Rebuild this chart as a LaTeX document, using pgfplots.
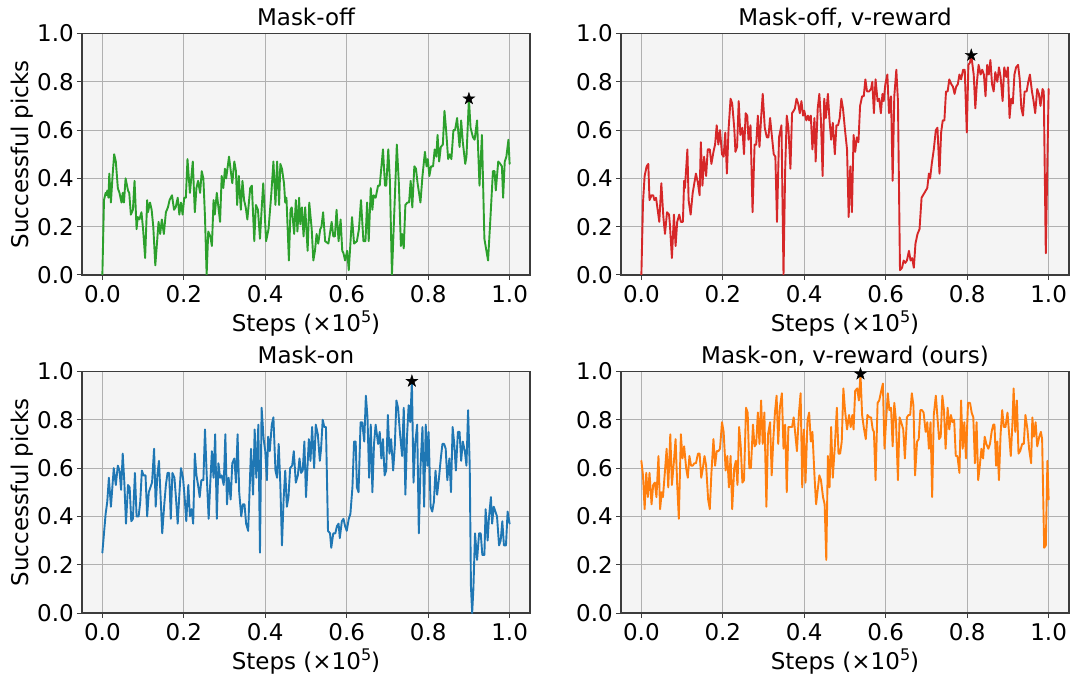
\documentclass[border=0pt]{standalone}
\usepackage{fontspec}
\setmainfont{DejaVu Sans}
\usepackage{pgfplots}
\pgfplotsset{compat=1.18}
\definecolor{tabgreen}{HTML}{2CA02C}
\definecolor{tabred}{HTML}{D62728}
\definecolor{tabblue}{HTML}{1F77B4}
\definecolor{taborange}{HTML}{FF7F0E}
\definecolor{axbg}{HTML}{F4F4F4}
\definecolor{gridc}{HTML}{B0B0B0}
\definecolor{framec}{HTML}{3C3C3C}
\pgfdeclareplotmark{fstar}{%
  \pgfpathmoveto{\pgfpointpolar{90}{\pgfplotmarksize}}%
  \pgfpathlineto{\pgfpointpolar{126}{0.382\pgfplotmarksize}}%
  \pgfpathlineto{\pgfpointpolar{162}{\pgfplotmarksize}}%
  \pgfpathlineto{\pgfpointpolar{198}{0.382\pgfplotmarksize}}%
  \pgfpathlineto{\pgfpointpolar{234}{\pgfplotmarksize}}%
  \pgfpathlineto{\pgfpointpolar{270}{0.382\pgfplotmarksize}}%
  \pgfpathlineto{\pgfpointpolar{306}{\pgfplotmarksize}}%
  \pgfpathlineto{\pgfpointpolar{342}{0.382\pgfplotmarksize}}%
  \pgfpathlineto{\pgfpointpolar{18}{\pgfplotmarksize}}%
  \pgfpathlineto{\pgfpointpolar{54}{0.382\pgfplotmarksize}}%
  \pgfpathclose
  \pgfusepathqfillstroke}
\newcommand{\bigf}{\fontsize{23}{27}\selectfont}
\pgfplotsset{
  panel/.style={
    scale only axis, width=448pt, height=241.5pt,
    xmin=-0.05, xmax=1.05, ymin=0, ymax=1,
    xtick={0,0.2,0.4,0.6,0.8,1}, ytick={0,0.2,0.4,0.6,0.8,1},
    xticklabels={0.0,0.2,0.4,0.6,0.8,1.0},
    yticklabels={0.0,0.2,0.4,0.6,0.8,1.0},
    grid=major, major grid style={line width=1pt, color=gridc},
    axis background/.style={fill=axbg},
    axis line style={line width=1.2pt, color=framec},
    tick align=outside, tick pos=left, major tick length=5pt,
    every tick/.style={line width=1pt, color=framec},
    tick label style={font=\bigf},
    xticklabel style={inner sep=5.5pt},
    yticklabel style={inner sep=3pt},
    label style={font=\bigf},
    title style={font=\bigf, at={(axis description cs:0.5,1)}, anchor=base, yshift=1.5pt},
    xlabel={Steps (×10\raisebox{0.42em}{\fontsize{16}{16}\selectfont 5})},
    xlabel style={at={(axis description cs:0.5,-0.236)}, anchor=base},
    ylabel style={at={(axis description cs:-0.1205,0.5)}, anchor=base},
  },
  dline/.style={line width=1.9pt, line join=round, line cap=round},
  starm/.style={only marks, mark=fstar, mark size=6.3pt, black, mark options={fill=black, draw=black, line width=0.4pt}},
}
\begin{document}
\begin{tikzpicture}
% ---------------- Mask-off ----------------
\begin{axis}[panel, at={(0pt,338pt)}, anchor=south west, title={Mask-off}, ylabel={Successful picks}]
\addplot[dline, tabgreen] table {
0.000 0.00
0.004 0.31
0.008 0.34
0.011 0.33
0.012 0.35
0.015 0.32
0.017 0.42
0.021 0.30
0.025 0.41
0.029 0.50
0.033 0.47
0.038 0.36
0.042 0.34
0.047 0.30
0.050 0.34
0.053 0.30
0.057 0.40
0.063 0.35
0.066 0.34
0.070 0.25
0.075 0.27
0.079 0.39
0.084 0.19
0.087 0.24
0.091 0.23
0.096 0.26
0.100 0.19
0.105 0.07
0.110 0.31
0.112 0.26
0.117 0.30
0.121 0.27
0.125 0.20
0.130 0.04
0.134 0.13
0.138 0.22
0.142 0.17
0.146 0.23
0.151 0.17
0.156 0.26
0.161 0.28
0.165 0.31
0.171 0.33
0.176 0.27
0.180 0.28
0.185 0.32
0.189 0.25
0.193 0.30
0.197 0.25
0.201 0.32
0.205 0.32
0.209 0.48
0.215 0.34
0.222 0.47
0.227 0.26
0.231 0.36
0.235 0.39
0.240 0.34
0.244 0.43
0.248 0.40
0.252 0.24
0.256 0.00
0.260 0.18
0.265 0.16
0.269 0.12
0.273 0.31
0.276 0.25
0.281 0.34
0.289 0.22
0.293 0.41
0.297 0.36
0.301 0.44
0.304 0.40
0.311 0.49
0.319 0.38
0.324 0.47
0.328 0.43
0.331 0.29
0.335 0.41
0.340 0.27
0.344 0.39
0.348 0.31
0.352 0.28
0.356 0.23
0.363 0.36
0.367 0.37
0.373 0.14
0.377 0.29
0.382 0.27
0.387 0.15
0.391 0.27
0.395 0.38
0.402 0.14
0.408 0.19
0.415 0.34
0.420 0.47
0.425 0.29
0.429 0.47
0.434 0.29
0.437 0.46
0.441 0.44
0.446 0.38
0.449 0.30
0.452 0.32
0.458 0.06
0.462 0.27
0.465 0.28
0.471 0.17
0.475 0.31
0.479 0.18
0.483 0.32
0.486 0.21
0.490 0.28
0.494 0.16
0.498 0.28
0.504 0.10
0.508 0.30
0.514 0.19
0.518 0.06
0.522 0.10
0.526 0.17
0.530 0.13
0.535 0.19
0.538 0.20
0.542 0.26
0.547 0.14
0.555 0.13
0.563 0.22
0.567 0.16
0.571 0.16
0.575 0.27
0.580 0.14
0.585 0.23
0.589 0.10
0.592 0.09
0.596 0.06
0.601 0.10
0.605 0.02
0.613 0.24
0.618 0.13
0.625 0.14
0.630 0.19
0.635 0.31
0.641 0.14
0.646 0.14
0.650 0.30
0.654 0.14
0.659 0.36
0.663 0.27
0.666 0.33
0.671 0.32
0.677 0.37
0.681 0.37
0.689 0.52
0.694 0.37
0.697 0.37
0.702 0.52
0.706 0.39
0.711 0.00
0.717 0.27
0.723 0.54
0.728 0.38
0.733 0.12
0.736 0.17
0.740 0.11
0.744 0.29
0.749 0.30
0.753 0.30
0.757 0.39
0.761 0.28
0.766 0.45
0.770 0.44
0.774 0.38
0.781 0.30
0.786 0.41
0.792 0.51
0.796 0.45
0.799 0.48
0.803 0.41
0.807 0.45
0.812 0.45
0.816 0.52
0.820 0.49
0.823 0.58
0.827 0.47
0.831 0.53
0.836 0.54
0.840 0.68
0.844 0.60
0.849 0.48
0.853 0.50
0.857 0.48
0.862 0.60
0.866 0.60
0.871 0.65
0.877 0.53
0.881 0.64
0.885 0.55
0.891 0.46
0.894 0.49
0.900 0.73
0.904 0.61
0.910 0.57
0.914 0.56
0.920 0.64
0.926 0.37
0.932 0.58
0.938 0.15
0.947 0.06
0.952 0.21
0.959 0.43
0.963 0.43
0.966 0.35
0.972 0.47
0.977 0.46
0.981 0.45
0.984 0.32
0.988 0.47
0.992 0.49
0.997 0.56
1.000 0.46
};
\addplot[starm] coordinates {(0.900,0.73)};
\end{axis}
% ---------------- Mask-off, v-reward ----------------
\begin{axis}[panel, at={(539pt,338pt)}, anchor=south west, title={Mask-off, v-reward}]
\addplot[dline, tabred] table {
0.000 0.00
0.004 0.30
0.008 0.41
0.013 0.45
0.017 0.46
0.020 0.31
0.025 0.33
0.029 0.33
0.032 0.31
0.036 0.32
0.040 0.27
0.044 0.22
0.049 0.38
0.054 0.24
0.058 0.17
0.063 0.26
0.068 0.25
0.070 0.21
0.075 0.07
0.080 0.25
0.084 0.12
0.088 0.22
0.093 0.25
0.097 0.22
0.102 0.22
0.105 0.39
0.107 0.36
0.113 0.52
0.116 0.31
0.121 0.25
0.126 0.34
0.134 0.42
0.139 0.38
0.143 0.33
0.146 0.55
0.150 0.37
0.154 0.49
0.159 0.41
0.163 0.52
0.168 0.52
0.172 0.46
0.177 0.51
0.181 0.54
0.185 0.62
0.189 0.54
0.193 0.60
0.198 0.50
0.202 0.49
0.206 0.59
0.210 0.42
0.214 0.60
0.219 0.73
0.223 0.71
0.228 0.61
0.231 0.51
0.235 0.53
0.239 0.72
0.243 0.58
0.248 0.61
0.252 0.50
0.256 0.67
0.260 0.66
0.263 0.56
0.268 0.62
0.273 0.26
0.278 0.54
0.282 0.54
0.286 0.66
0.290 0.53
0.294 0.65
0.298 0.75
0.303 0.61
0.308 0.57
0.312 0.57
0.316 0.65
0.325 0.50
0.329 0.49
0.333 0.22
0.338 0.57
0.344 0.62
0.349 0.00
0.353 0.43
0.357 0.66
0.361 0.61
0.366 0.44
0.370 0.67
0.374 0.68
0.377 0.69
0.381 0.73
0.385 0.71
0.389 0.67
0.393 0.72
0.397 0.66
0.400 0.68
0.405 0.64
0.409 0.66
0.412 0.64
0.416 0.66
0.420 0.52
0.425 0.65
0.428 0.47
0.433 0.69
0.437 0.75
0.441 0.64
0.445 0.41
0.449 0.73
0.453 0.65
0.458 0.75
0.462 0.64
0.466 0.56
0.470 0.63
0.475 0.50
0.479 0.62
0.483 0.62
0.487 0.65
0.491 0.73
0.495 0.69
0.500 0.60
0.505 0.52
0.509 0.24
0.513 0.45
0.517 0.26
0.521 0.58
0.525 0.51
0.529 0.57
0.533 0.55
0.537 0.70
0.542 0.74
0.546 0.74
0.550 0.81
0.554 0.76
0.559 0.76
0.564 0.77
0.567 0.80
0.571 0.67
0.575 0.81
0.580 0.72
0.584 0.73
0.588 0.67
0.592 0.75
0.595 0.72
0.599 0.79
0.604 0.83
0.608 0.67
0.613 0.74
0.617 0.39
0.621 0.74
0.626 0.85
0.630 0.72
0.635 0.02
0.640 0.03
0.644 0.06
0.648 0.05
0.652 0.06
0.657 0.10
0.661 0.06
0.665 0.07
0.669 0.03
0.673 0.13
0.678 0.17
0.683 0.19
0.688 0.32
0.695 0.34
0.702 0.36
0.706 0.42
0.709 0.40
0.713 0.46
0.718 0.52
0.723 0.60
0.727 0.61
0.732 0.42
0.736 0.59
0.740 0.64
0.744 0.64
0.748 0.76
0.752 0.76
0.756 0.81
0.761 0.79
0.765 0.78
0.769 0.75
0.773 0.78
0.777 0.79
0.781 0.83
0.785 0.81
0.790 0.85
0.794 0.85
0.799 0.59
0.803 0.87
0.807 0.88
0.810 0.91
0.816 0.83
0.820 0.69
0.824 0.80
0.828 0.87
0.833 0.83
0.837 0.85
0.841 0.83
0.845 0.74
0.849 0.87
0.853 0.83
0.857 0.89
0.861 0.79
0.865 0.76
0.869 0.84
0.874 0.80
0.878 0.86
0.882 0.82
0.887 0.72
0.891 0.86
0.896 0.82
0.900 0.86
0.904 0.65
0.908 0.73
0.912 0.71
0.916 0.83
0.920 0.86
0.925 0.87
0.929 0.81
0.933 0.69
0.937 0.66
0.941 0.76
0.946 0.76
0.950 0.80
0.954 0.83
0.959 0.76
0.963 0.72
0.967 0.67
0.972 0.77
0.976 0.75
0.980 0.70
0.985 0.77
0.988 0.76
0.993 0.09
1.000 0.77
};
\addplot[starm] coordinates {(0.810,0.91)};
\end{axis}
% ---------------- Mask-on ----------------
\begin{axis}[panel, at={(0pt,0pt)}, anchor=south west, title={Mask-on}, ylabel={Successful picks}]
\addplot[dline, tabblue] table {
0.000 0.25
0.008 0.41
0.012 0.46
0.016 0.56
0.021 0.44
0.028 0.60
0.033 0.53
0.038 0.61
0.042 0.59
0.046 0.51
0.050 0.66
0.054 0.54
0.058 0.37
0.063 0.53
0.067 0.52
0.071 0.38
0.075 0.39
0.080 0.58
0.084 0.40
0.089 0.40
0.093 0.46
0.097 0.59
0.101 0.57
0.106 0.57
0.110 0.40
0.114 0.50
0.118 0.52
0.122 0.54
0.127 0.68
0.131 0.44
0.135 0.57
0.139 0.63
0.147 0.33
0.152 0.45
0.156 0.53
0.160 0.58
0.164 0.58
0.168 0.39
0.172 0.58
0.177 0.56
0.181 0.47
0.185 0.37
0.189 0.49
0.193 0.60
0.198 0.56
0.202 0.48
0.206 0.38
0.211 0.53
0.215 0.40
0.219 0.43
0.223 0.37
0.227 0.66
0.231 0.57
0.235 0.53
0.239 0.48
0.243 0.55
0.248 0.55
0.252 0.76
0.256 0.58
0.261 0.39
0.265 0.54
0.269 0.67
0.273 0.56
0.277 0.74
0.281 0.39
0.285 0.62
0.289 0.56
0.293 0.57
0.298 0.53
0.302 0.74
0.306 0.45
0.310 0.56
0.315 0.47
0.319 0.62
0.324 0.64
0.328 0.54
0.332 0.74
0.336 0.50
0.341 0.40
0.345 0.45
0.349 0.45
0.353 0.37
0.358 0.34
0.365 0.68
0.370 0.49
0.374 0.76
0.378 0.56
0.383 0.78
0.387 0.25
0.391 0.85
0.396 0.72
0.400 0.67
0.404 0.55
0.407 0.73
0.411 0.67
0.416 0.78
0.420 0.81
0.425 0.59
0.429 0.56
0.433 0.70
0.437 0.53
0.441 0.28
0.445 0.47
0.449 0.59
0.453 0.44
0.457 0.48
0.461 0.60
0.466 0.61
0.470 0.67
0.475 0.54
0.480 0.57
0.484 0.64
0.488 0.58
0.492 0.59
0.496 0.71
0.500 0.48
0.507 0.72
0.511 0.63
0.515 0.77
0.520 0.60
0.524 0.78
0.529 0.74
0.534 0.63
0.537 0.68
0.541 0.80
0.545 0.77
0.549 0.77
0.554 0.34
0.559 0.33
0.562 0.27
0.567 0.33
0.572 0.33
0.576 0.36
0.580 0.37
0.583 0.31
0.588 0.38
0.592 0.39
0.596 0.36
0.600 0.34
0.605 0.39
0.609 0.41
0.614 0.52
0.618 0.71
0.622 0.71
0.625 0.52
0.629 0.50
0.634 0.79
0.638 0.79
0.643 0.71
0.647 0.90
0.651 0.81
0.655 0.56
0.659 0.78
0.663 0.50
0.667 0.70
0.671 0.78
0.677 0.70
0.681 0.75
0.685 0.64
0.689 0.72
0.693 0.57
0.697 0.59
0.701 0.82
0.705 0.66
0.709 0.72
0.714 0.59
0.718 0.69
0.722 0.88
0.726 0.85
0.731 0.74
0.736 0.65
0.740 0.85
0.744 0.49
0.748 0.73
0.752 0.86
0.756 0.79
0.760 0.96
0.764 0.54
0.768 0.70
0.773 0.78
0.777 0.33
0.781 0.60
0.786 0.77
0.790 0.44
0.794 0.78
0.798 0.61
0.801 0.75
0.806 0.44
0.810 0.42
0.814 0.46
0.818 0.59
0.822 0.49
0.826 0.55
0.831 0.64
0.835 0.70
0.839 0.70
0.843 0.68
0.847 0.55
0.852 0.64
0.856 0.50
0.860 0.77
0.864 0.70
0.868 0.59
0.873 0.75
0.877 0.75
0.881 0.63
0.885 0.71
0.890 0.67
0.894 0.61
0.898 0.84
0.902 0.61
0.905 0.11
0.908 0.00
0.911 0.10
0.915 0.33
0.920 0.22
0.925 0.33
0.929 0.33
0.933 0.24
0.938 0.24
0.941 0.43
0.946 0.30
0.949 0.39
0.954 0.48
0.957 0.37
0.961 0.44
0.965 0.42
0.969 0.40
0.974 0.28
0.978 0.30
0.982 0.38
0.986 0.28
0.991 0.28
0.995 0.42
1.000 0.37
};
\addplot[starm] coordinates {(0.760,0.96)};
\end{axis}
% ---------------- Mask-on, v-reward (ours) ----------------
\begin{axis}[panel, at={(539pt,0pt)}, anchor=south west, title={Mask-on, v-reward (ours)}]
\addplot[dline, taborange] table {
0.000 0.63
0.004 0.57
0.008 0.43
0.012 0.58
0.016 0.48
0.020 0.58
0.025 0.45
0.029 0.53
0.033 0.54
0.037 0.48
0.042 0.65
0.046 0.43
0.050 0.50
0.053 0.48
0.058 0.59
0.062 0.68
0.066 0.52
0.071 0.74
0.075 0.53
0.080 0.63
0.084 0.72
0.088 0.53
0.092 0.39
0.097 0.74
0.101 0.64
0.105 0.69
0.110 0.60
0.114 0.56
0.118 0.65
0.122 0.61
0.126 0.61
0.130 0.62
0.134 0.62
0.139 0.66
0.143 0.66
0.147 0.56
0.151 0.60
0.155 0.65
0.159 0.61
0.164 0.47
0.168 0.43
0.172 0.58
0.177 0.72
0.181 0.61
0.185 0.67
0.189 0.67
0.193 0.68
0.198 0.79
0.202 0.75
0.207 0.59
0.211 0.65
0.215 0.52
0.219 0.65
0.223 0.43
0.228 0.60
0.232 0.63
0.236 0.53
0.240 0.77
0.244 0.69
0.248 0.54
0.252 0.55
0.257 0.85
0.261 0.83
0.265 0.60
0.269 0.60
0.274 0.78
0.278 0.69
0.282 0.70
0.286 0.83
0.290 0.70
0.294 0.88
0.298 0.70
0.302 0.83
0.307 0.44
0.311 0.74
0.316 0.79
0.320 0.57
0.324 0.72
0.328 0.83
0.332 0.90
0.336 0.70
0.340 0.85
0.345 0.91
0.349 0.68
0.353 0.78
0.357 0.50
0.361 0.77
0.366 0.77
0.370 0.77
0.374 0.81
0.378 0.74
0.382 0.67
0.387 0.83
0.391 0.91
0.395 0.52
0.399 0.76
0.403 0.54
0.408 0.80
0.412 0.83
0.416 0.71
0.420 0.75
0.425 0.57
0.429 0.45
0.433 0.51
0.437 0.57
0.441 0.55
0.446 0.48
0.450 0.45
0.454 0.22
0.458 0.65
0.462 0.52
0.466 0.77
0.470 0.56
0.475 0.69
0.480 0.85
0.484 0.66
0.488 0.66
0.492 0.71
0.496 0.93
0.500 0.84
0.505 0.76
0.510 0.82
0.514 0.77
0.518 0.82
0.521 0.76
0.525 0.92
0.530 0.93
0.534 0.88
0.538 0.99
0.542 0.82
0.546 0.77
0.551 0.72
0.555 0.82
0.560 0.81
0.564 0.81
0.568 0.76
0.571 0.75
0.575 0.55
0.580 0.87
0.584 0.88
0.589 0.92
0.593 0.95
0.597 0.68
0.601 0.80
0.605 0.91
0.609 0.84
0.613 0.85
0.617 0.69
0.621 0.87
0.625 0.80
0.630 0.55
0.634 0.81
0.638 0.79
0.643 0.76
0.647 0.64
0.652 0.81
0.656 0.82
0.660 0.82
0.664 0.91
0.668 0.86
0.672 0.57
0.677 0.71
0.681 0.72
0.685 0.84
0.689 0.84
0.693 0.83
0.698 0.75
0.702 0.79
0.706 0.68
0.710 0.79
0.714 0.48
0.718 0.82
0.723 0.90
0.727 0.81
0.731 0.72
0.735 0.73
0.739 0.90
0.743 0.84
0.747 0.68
0.752 0.85
0.756 0.76
0.760 0.82
0.764 0.79
0.768 0.80
0.772 0.65
0.776 0.65
0.781 0.58
0.785 0.88
0.789 0.68
0.793 0.79
0.797 0.64
0.802 0.87
0.807 0.87
0.811 0.83
0.815 0.81
0.819 0.62
0.823 0.79
0.827 0.55
0.831 0.61
0.835 0.68
0.839 0.64
0.843 0.73
0.847 0.70
0.852 0.68
0.856 0.70
0.860 0.75
0.864 0.78
0.867 0.78
0.871 0.61
0.874 0.71
0.878 0.55
0.882 0.74
0.886 0.84
0.890 0.77
0.894 0.77
0.899 0.83
0.903 0.74
0.907 0.65
0.911 0.78
0.914 0.93
0.918 0.75
0.922 0.88
0.926 0.66
0.930 0.67
0.935 0.70
0.939 0.70
0.943 0.82
0.948 0.76
0.952 0.68
0.957 0.62
0.960 0.81
0.964 0.73
0.968 0.79
0.972 0.69
0.977 0.73
0.981 0.75
0.984 0.72
0.989 0.27
0.993 0.28
0.997 0.63
1.000 0.47
};
\addplot[starm] coordinates {(0.538,0.99)};
\end{axis}
\pgfresetboundingbox
\useasboundingbox (-82pt,-67pt) rectangle (991pt,613pt);
\end{tikzpicture}
\end{document}
